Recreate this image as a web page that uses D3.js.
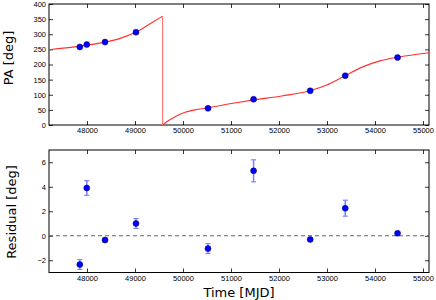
<!DOCTYPE html>
<html>
<head>
<meta charset="utf-8">
<script src="https://cdn.jsdelivr.net/npm/d3@7"></script>
<style>
  body { margin: 0; background: #fff; }
  svg { display: block; font-family: "DejaVu Sans", sans-serif; }
  .tick text { fill: #000; }
</style>
</head>
<body>
<svg id="chart" width="436" height="300"></svg>
<script>
// observation epochs (MJD), position angle, residuals
var epochs = [47850, 47995, 48375, 49020, 50520, 51470, 52650, 53380, 54470];
var paValues = [258, 266, 274, 307, 55, 85, 113, 163, 223];
var residuals = [-2.35, 3.9, -0.35, 1.0, -1.05, 5.3, -0.3, 2.25, 0.2];
var residualErr = [0.4, 0.6, 0.15, 0.4, 0.4, 0.9, 0.1, 0.65, 0.1];

// model curve (before and after the 360 -> 0 wrap)
var modelBefore = [[47208, 249], [47818, 260], [48375, 274], [48723, 288], [49035, 308], [49348, 338], [49575, 360]];
var modelAfter = [[49575, 0], [49700, 15], [49833, 27], [50027, 41], [50250, 50], [50527, 57], [51014, 71],
    [51479, 83], [52056, 96], [52646, 113], [52994, 132], [53375, 163], [53756, 193], [54104, 212],
    [54465, 224], [55125, 239]];

var xTicks = [48000, 49000, 50000, 51000, 52000, 53000, 54000, 55000];
var paTicks = [0, 50, 100, 150, 200, 250, 300, 350, 400];
var resTicks = [-2, 0, 2, 4, 6];

var svg = d3.select("#chart");
var left = 49, right = 429;

var x = d3.scaleLinear().domain([47208, 55125]).range([left, right]);
var yTop = d3.scaleLinear().domain([0, 400]).range([125, 4]);
var yBot = d3.scaleLinear().domain([-3, 7]).range([272.5, 150]);

function frame(y, ticks, top, bottom) {
    var g = svg.append("g");
    // inward ticks on all four sides
    var bx = g.append("g").attr("transform", "translate(0," + bottom + ")")
        .call(d3.axisBottom(x).tickValues(xTicks).tickFormat(d3.format("d")).tickSizeInner(-4).tickSizeOuter(0).tickPadding(3));
    var tx = g.append("g").attr("transform", "translate(0," + top + ")")
        .call(d3.axisTop(x).tickValues(xTicks).tickFormat("").tickSizeInner(-4).tickSizeOuter(0));
    var ly = g.append("g").attr("transform", "translate(" + left + ",0)")
        .call(d3.axisLeft(y).tickValues(ticks).tickSizeInner(-4).tickSizeOuter(0).tickPadding(3));
    var ry = g.append("g").attr("transform", "translate(" + right + ",0)")
        .call(d3.axisRight(y).tickValues(ticks).tickFormat("").tickSizeInner(-4).tickSizeOuter(0));
    [bx, tx, ly, ry].forEach(function (a) {
        a.select(".domain").remove();
        a.selectAll("line").attr("stroke", "#000").attr("stroke-width", 0.8);
        a.selectAll("text").attr("font-size", "7.5px").attr("fill", "#111");
    });
    g.append("rect")
        .attr("x", left).attr("y", top)
        .attr("width", right - left).attr("height", bottom - top)
        .attr("fill", "none").attr("stroke", "#000").attr("stroke-width", 1);
    return g;
}

// ---- top panel
frame(yTop, paTicks, 4, 125);

var line = d3.line()
    .x(function (d) { return x(d[0]); })
    .y(function (d) { return yTop(d[1]); })
    .curve(d3.curveMonotoneX);

svg.append("path").datum(modelBefore).attr("d", line)
    .attr("fill", "none").attr("stroke", "#ff3030").attr("stroke-width", 1.1);
svg.append("path").datum(modelAfter).attr("d", line)
    .attr("fill", "none").attr("stroke", "#ff3030").attr("stroke-width", 1.1);
svg.append("line")
    .attr("x1", x(modelBefore[modelBefore.length - 1][0])).attr("x2", x(modelAfter[0][0]))
    .attr("y1", yTop(modelBefore[modelBefore.length - 1][1])).attr("y2", yTop(modelAfter[0][1]))
    .attr("stroke", "#ff7070").attr("stroke-width", 1.1);

svg.append("g").selectAll("circle")
    .data(epochs)
    .enter().append("circle")
    .attr("cx", function (d) { return x(d); })
    .attr("cy", function (d, i) { return yTop(paValues[i]); })
    .attr("r", 3)
    .attr("fill", "#0000ff").attr("stroke", "#000060").attr("stroke-width", 0.5);

svg.append("text")
    .attr("transform", "translate(12.5,58) rotate(-90)")
    .attr("text-anchor", "middle").attr("font-size", "13px")
    .text("PA [deg]");

// ---- bottom panel
frame(yBot, resTicks, 150, 272.5);

svg.append("line")
    .attr("x1", left).attr("x2", right)
    .attr("y1", yBot(0)).attr("y2", yBot(0))
    .attr("stroke", "#666").attr("stroke-width", 1.2).attr("stroke-dasharray", "4,3");

var bars = svg.append("g").selectAll("g")
    .data(epochs)
    .enter().append("g");
bars.append("line")
    .attr("x1", function (d) { return x(d); }).attr("x2", function (d) { return x(d); })
    .attr("y1", function (d, i) { return yBot(residuals[i] - residualErr[i]); })
    .attr("y2", function (d, i) { return yBot(residuals[i] + residualErr[i]); })
    .attr("stroke", "#7f7fff").attr("stroke-width", 1.5);
[-1, 1].forEach(function (s) {
    bars.append("line")
        .attr("x1", function (d) { return x(d) - 2.5; }).attr("x2", function (d) { return x(d) + 2.5; })
        .attr("y1", function (d, i) { return yBot(residuals[i] + s * residualErr[i]); })
        .attr("y2", function (d, i) { return yBot(residuals[i] + s * residualErr[i]); })
        .attr("stroke", "#7f7fff").attr("stroke-width", 1.2);
});
bars.append("circle")
    .attr("cx", function (d) { return x(d); })
    .attr("cy", function (d, i) { return yBot(residuals[i]); })
    .attr("r", 3)
    .attr("fill", "#0000ff").attr("stroke", "#000060").attr("stroke-width", 0.5);

svg.append("text")
    .attr("transform", "translate(16,212) rotate(-90)")
    .attr("text-anchor", "middle").attr("font-size", "13px")
    .text("Residual [deg]");

svg.append("text")
    .attr("x", (left + right) / 2).attr("y", 297)
    .attr("text-anchor", "middle").attr("font-size", "13px")
    .text("Time [MJD]");
</script>
</body>
</html>
